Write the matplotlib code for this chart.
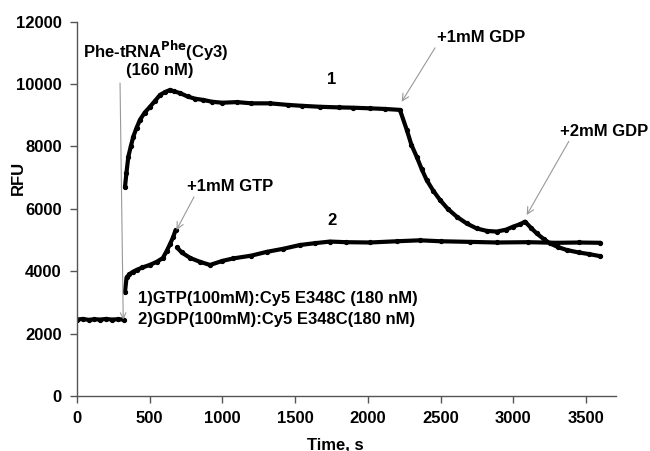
import matplotlib.pyplot as plt
import numpy as np

plt.rcParams['font.family'] = ['Liberation Sans', 'DejaVu Sans']
plt.rcParams['font.weight'] = 'bold'

# baseline before tRNA addition (both traces)
t_base = [0, 40, 80, 120, 160, 200, 240, 280, 320]
rfu_base = [2450, 2470, 2440, 2460, 2450, 2470, 2450, 2460, 2450]

# trace 1: GTP-bound Cy5 E348C
t_1 = [330, 340, 353, 370, 387, 410, 433, 465, 502, 535, 571, 605, 640, 670,
       708, 760, 810, 867, 930, 1000, 1100, 1200, 1327, 1450, 1550, 1671, 1800,
       1900, 2015, 2120, 2221, 2268, 2300, 2336, 2370, 2405, 2450, 2497, 2550,
       2611, 2680, 2749, 2820, 2887, 2950, 3001, 3050, 3081, 3120, 3162, 3210,
       3253, 3310, 3368, 3450, 3520, 3600]
rfu_1 = [6700, 7150, 7670, 8000, 8310, 8600, 8850, 9080, 9270, 9450, 9650, 9740,
         9810, 9760, 9710, 9600, 9530, 9490, 9430, 9400, 9420, 9380, 9380, 9330,
         9300, 9270, 9250, 9240, 9220, 9200, 9170, 8530, 8050, 7670, 7280, 6920,
         6580, 6280, 6000, 5750, 5530, 5370, 5290, 5270, 5330, 5430, 5510, 5590,
         5400, 5210, 5030, 4890, 4770, 4680, 4600, 4550, 4480]

# trace 2: GDP-bound Cy5 E348C, split at the GTP addition
t_2a = [330, 341, 360, 388, 410, 450, 500, 548, 590, 617, 640, 662, 678]
rfu_2a = [3340, 3800, 3900, 3990, 4040, 4120, 4200, 4300, 4420, 4650, 4870,
          5100, 5320]
t_2b = [688, 720, 780, 846, 915, 1000, 1075, 1200, 1305, 1420, 1534, 1640, 1740,
        1850, 2015, 2200, 2359, 2500, 2700, 2887, 3100, 3300, 3450, 3600]
rfu_2b = [4760, 4600, 4420, 4300, 4200, 4330, 4410, 4500, 4620, 4720, 4840,
          4900, 4950, 4930, 4920, 4960, 4990, 4960, 4940, 4920, 4930, 4910, 4920,
          4910]

fig = plt.figure(figsize=(6.5, 4.51), dpi=100)
ax = fig.add_axes([77 / 650, 55 / 451, 539 / 650, 374.4 / 451])

style = dict(color='black', lw=3.0, marker='o', ms=2.8, solid_capstyle='round')
ax.plot(t_base, rfu_base, **style)
ax.plot(t_1, rfu_1, **style)
ax.plot(t_2a, rfu_2a, **style)
ax.plot(t_2b, rfu_2b, **style)

ax.set_xlim(0, 3707)
ax.set_ylim(0, 12000)
ax.set_xticks(np.arange(0, 3501, 500))
ax.set_yticks(np.arange(0, 12001, 2000))
for side in ('top', 'right'):
    ax.spines[side].set_visible(False)
for side in ('left', 'bottom'):
    ax.spines[side].set_color('#555555')
    ax.spines[side].set_linewidth(1.0)
ax.tick_params(direction='out', length=5, width=1, color='#555555',
               labelsize=12, pad=6)
for lab in ax.get_xticklabels() + ax.get_yticklabels():
    lab.set_fontweight('bold')

ax.set_xlabel('Time, s', fontsize=12, fontweight='bold', va='center')
ax.xaxis.set_label_coords(0.48, -0.131)
ax.set_ylabel('RFU', fontsize=12, fontweight='bold', va='center')
ax.yaxis.set_label_coords(-0.108, 0.582)

arrow = dict(arrowstyle='->', color='#999999', lw=0.8, shrinkA=0, shrinkB=0)
txt = dict(fontsize=12, fontweight='bold', clip_on=False)

ax.text(41, 11050, r'Phe-tRNA$^{\mathbf{Phe}}$(Cy3)', ha='left', va='center', **txt)
ax.text(570, 10420, '(160 nM)', ha='center', va='center', **txt)
ax.annotate('', xy=(318, 2450), xytext=(296, 10030), arrowprops=arrow)

ax.annotate('+1mM GTP', xy=(684, 5320), xytext=(1052, 6710), ha='center',
            va='center', arrowprops=dict(arrow, relpos=(0.1, 0)), **txt)
ax.annotate('+1mM GDP', xy=(2233, 9430), xytext=(2778, 11490), ha='center',
            va='center', arrowprops=dict(arrow, relpos=(0.0, 0)), **txt)
ax.annotate('+2mM GDP', xy=(3093, 5800), xytext=(3624, 8490), ha='center',
            va='center', arrowprops=dict(arrow, relpos=(0.12, 0)), **txt)

ax.text(1752, 10130, '1', ha='center', va='center', **txt)
ax.text(1752, 5640, '2', ha='center', va='center', **txt)
ax.text(420, 3140, '1)GTP(100mM):Cy5 E348C (180 nM)', ha='left', va='center', **txt)
ax.text(420, 2440, '2)GDP(100mM):Cy5 E348C(180 nM)', ha='left', va='center', **txt)

fig.savefig('out.png', dpi=100)
